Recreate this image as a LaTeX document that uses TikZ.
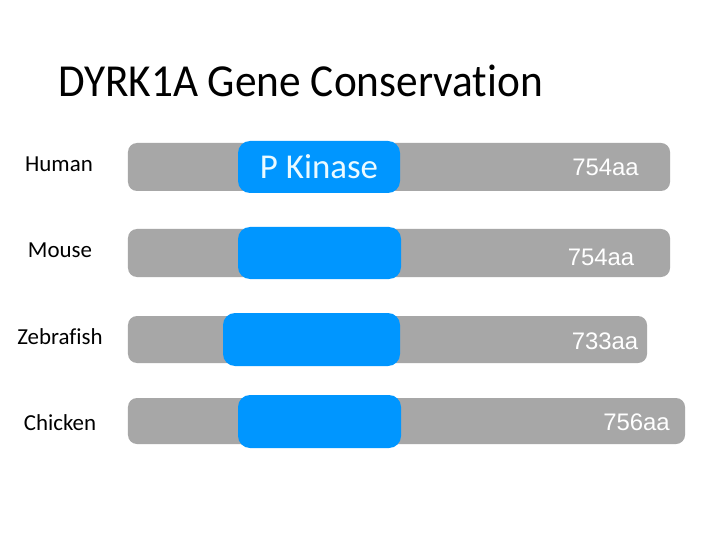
\documentclass[tikz,border=0pt]{standalone}
\usepackage{fontspec}
\setmainfont[Ligatures=NoCommon]{Carlito}
\newfontfamily\arialfont{Liberation Sans}
\definecolor{barGray}{RGB}{167,167,167}
\definecolor{kinaseBlue}{RGB}{0,150,255}
\definecolor{kinaseText}{RGB}{235,250,255}

\begin{document}
\begin{tikzpicture}[x=1bp, y=-1bp]
   \useasboundingbox[fill=white] (0,0) rectangle (720,540);
   \tikzset{BarStyle/.style={fill=barGray, rounded corners=9bp, inner sep=0pt, minimum height=48bp}}
   \tikzset{KinaseStyle/.style={fill=kinaseBlue, rounded corners=12bp, inner sep=0pt, minimum height=52bp,
      text=kinaseText, font=\fontsize{35}{40}\selectfont}}
   \tikzset{LengthStyle/.style={text=white, inner sep=0pt, font=\arialfont\fontsize{24}{28}\selectfont}}
   \tikzset{SpeciesStyle/.style={inner sep=0pt, font=\fontsize{23}{27}\selectfont}}
   \node[anchor=base west, inner sep=0pt, font=\fontsize{46}{52}\selectfont] (title) at (58,97)
      {\scalebox{0.945}[1]{DYRK1A Gene Conservation}};
   \node[SpeciesStyle] (human) at (59,164) {Human};
   \node[SpeciesStyle] (mouse) at (60,250) {Mouse};
   \node[SpeciesStyle] (zebrafish) at (60,337) {Zebrafish};
   \node[SpeciesStyle] (chicken) at (60,423) {Chicken};
   \node[BarStyle, minimum width=542bp] (humanbar) at (399,167) {};
   \node[BarStyle, minimum width=542bp] (mousebar) at (399,253) {};
   \node[BarStyle, minimum width=519bp, minimum height=47bp] (zebrafishbar) at (387.5,339.5) {};
   \node[BarStyle, minimum width=557bp, minimum height=46bp] (chickenbar) at (406.5,421) {};
   \node[KinaseStyle, minimum width=162bp] (humankinase) at (319,167) {P Kinase};
   \node[KinaseStyle, minimum width=163bp] (mousekinase) at (319.5,253) {};
   \node[KinaseStyle, minimum width=177bp, minimum height=53bp] (zebrafishkinase) at (311.5,339.5) {};
   \node[KinaseStyle, minimum width=163bp, minimum height=53bp] (chickenkinase) at (319.5,421.5) {};
   \node[LengthStyle] (humanlen) at (605.5,167) {754aa};
   \node[LengthStyle] (mouselen) at (601,257) {754aa};
   \node[LengthStyle] (zebrafishlen) at (605,341) {733aa};
   \node[LengthStyle] (chickenlen) at (636.5,422) {756aa};
\end{tikzpicture}
\end{document}
